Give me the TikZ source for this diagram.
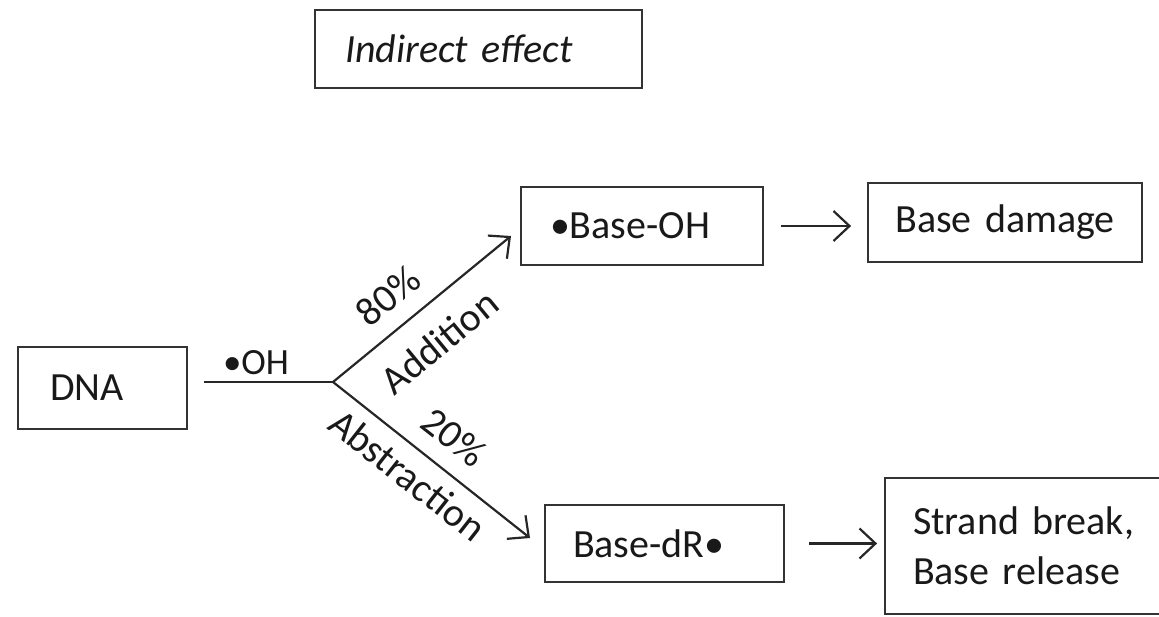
\documentclass[tikz,border=0pt]{standalone}
\usepackage{fontspec}
\setmainfont{Carlito}
\usetikzlibrary{arrows.meta}
\begin{document}
\begin{tikzpicture}[x=1pt,y=-1pt,
  box/.style={draw=black!80, line width=1.8pt, inner ysep=0pt, text=black!90,
    font=\fontsize{40}{50}\selectfont},
  lbl/.style={inner sep=0pt, text=black!90, font=\fontsize{40}{46}\selectfont},
  arr/.style={draw=black!85, line width=2.2pt, -{Straight Barb[length=16pt,width=30pt,line width=2.2pt]}},
  ln/.style={draw=black!85, line width=2.2pt}]
\useasboundingbox (0,0) rectangle (1159,617);
% boxes
\node[box, minimum width=327pt, minimum height=78pt, text width=267pt, inner xsep=30pt, align=left,
  font=\fontsize{40}{50}\selectfont\itshape] (IE) at (478.5,49) {Indirect effect};
\node[box, minimum height=82pt, text width=105pt, inner xsep=32pt, align=left] (DNA) at (102.5,388) {DNA};
\node[box, minimum height=78pt, text width=184pt, inner xsep=29pt, align=left] (BOH) at (642,226) {•Base-OH};
\node[box, minimum height=79pt, text width=234pt, inner xsep=20pt, align=center] (BD) at (1005,222.5) {Base damage};
\node[box, minimum height=77pt, text width=183pt, inner xsep=28pt, align=left] (BDR) at (664.5,543.5) {Base-dR•};
\node[box, minimum height=136pt, text width=234pt, inner xsep=28pt, align=left] (SB) at (1030,546) {Strand break,\\Base release};
% connectors
\coordinate (J) at (333,382);
\coordinate (T1) at (511,236);
\coordinate (T2) at (530,538);
\draw[ln] ([xshift=16pt]DNA.east |- J) -- (J);
\draw[arr] (J) -- (T1);
\draw[arr] (J) -- (T2);
\draw[arr, shorten <=17pt, shorten >=16pt] (BOH.east) -- (BOH.east -| BD.west);
\draw[arr, shorten <=24pt, shorten >=7pt] (BDR.east) -- (BDR.east -| SB.west);
% labels
\node[lbl, anchor=base, font=\fontsize{37}{40}\selectfont] (OH) at (256,375) {•OH};
\node[lbl, rotate=39.4] (P80) at (388,296) {80\%};
\node[lbl, rotate=39.4] (ADD) at (439,342) {Addition};
\node[lbl, rotate=-38.2] (P20) at (454,437) {20\%};
\node[lbl, rotate=-38.2] (ABS) at (408,475) {Abstraction};
\end{tikzpicture}
\end{document}
